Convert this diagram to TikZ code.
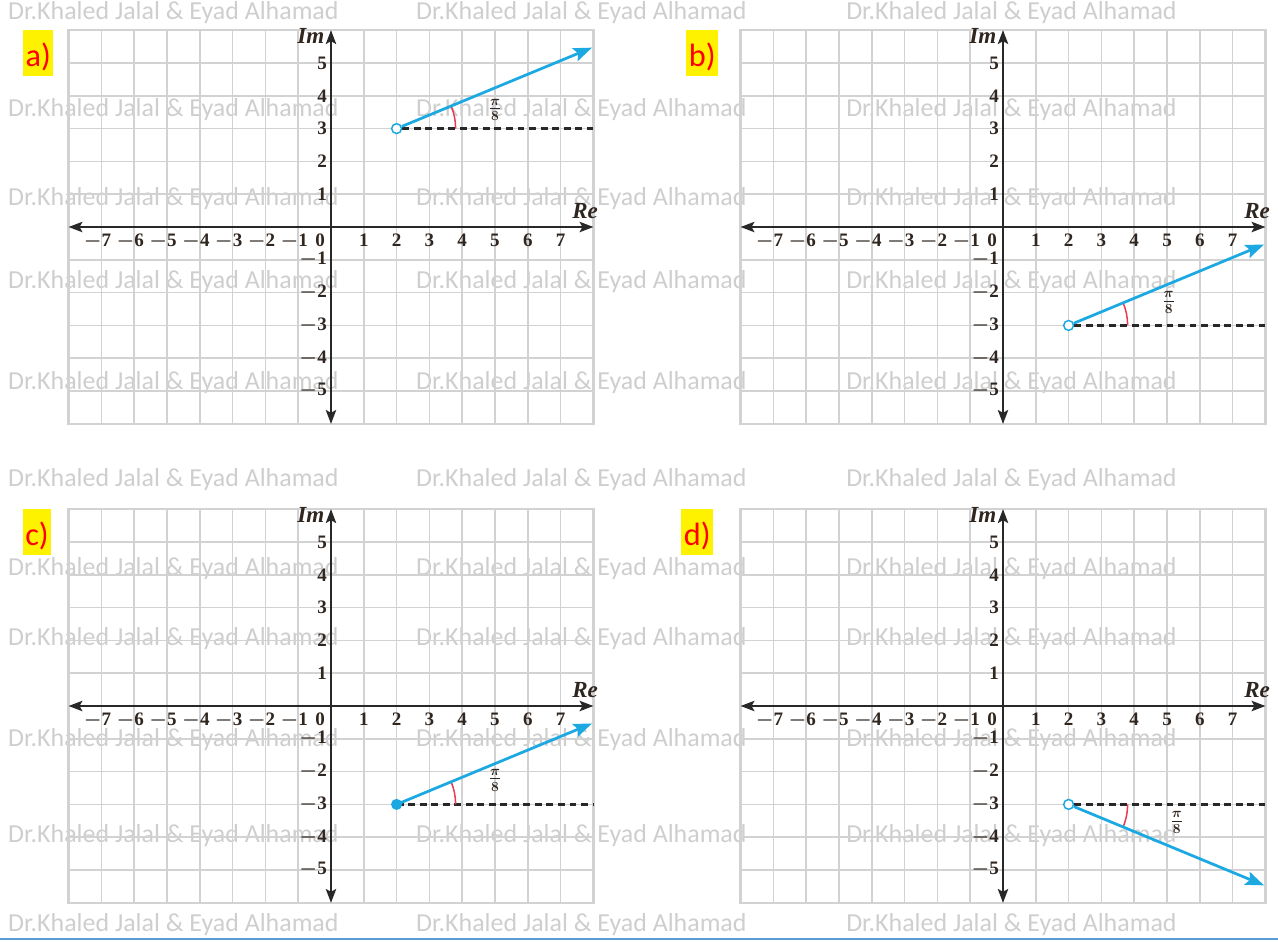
\documentclass[tikz,border=0pt]{standalone}
\usepackage{fontspec}
\setmainfont{Liberation Serif}
\newfontfamily\markfont{Carlito}
\usetikzlibrary{arrows.meta}
\usetikzlibrary{angles}

\definecolor{vecblue}{RGB}{28,169,226}
\definecolor{gridgray}{RGB}{210,210,210}
\definecolor{markgray}{RGB}{206,206,206}
\definecolor{axisgray}{RGB}{40,40,40}
\definecolor{tickcol}{RGB}{48,38,32}
\definecolor{anglered}{RGB}{232,58,80}
\definecolor{pageblue}{RGB}{91,155,213}

\tikzset{
  gridline/.style={draw=gridgray, line width=1.4pt},
  axisline/.style={draw=axisgray, line width=1.7pt, >={Stealth[length=12pt,width=9pt,inset=2.5pt]}},
  ticklabel/.style={inner sep=0pt, text=tickcol, font=\fontsize{16.5}{16.5}\selectfont\bfseries\boldmath},
  axislabel/.style={inner sep=0pt, text=tickcol, font=\fontsize{20}{20}\selectfont\bfseries\itshape},
  fraclabel/.style={inner sep=0pt, text=tickcol, font=\fontsize{18}{18}\selectfont\boldmath},
  vector/.style={draw=vecblue, line width=2.4pt, >={Stealth[length=16pt,width=12pt,inset=3pt]}},
  dashline/.style={draw=axisgray, line width=2pt, dash pattern=on 6pt off 4pt},
  anglemark/.style={draw=anglered, line width=1.3pt, angle radius=1.8cm},
  opendot/.style={circle, draw=vecblue, fill=white, line width=1.3pt, minimum size=0.3cm, inner sep=0pt},
  fulldot/.style={circle, fill=vecblue, minimum size=0.34cm, inner sep=0pt},
  partlabel/.style={fill=yellow, text=red, inner sep=0pt, inner xsep=2.3pt, text height=32pt, text depth=7.8pt, font=\markfont\fontsize{28}{28}\selectfont},
  watermark/.style={text=markgray, inner sep=0pt, font=\markfont\fontsize{22.5}{22.5}\selectfont}
}

% grid, axes and tick labels of one complex plane
\newcommand{\planeaxes}{%
  \draw[gridline] (-8,-6) grid (8,6);
  \draw[gridline, line width=2pt] (-8,-6) rectangle (8,6);
  \draw[axisline, <->] (-8,0) -- (8,0);
  \draw[axisline, <->] (0,-6) -- (0,6);
  \node[axislabel, anchor=base east] (im) at (-0.2,5.6) {Im};
  \node[axislabel, anchor=base west] (re) at (7.35,0.27) {Re};
  \node[ticklabel, anchor=base] (zero) at (-0.33,-0.6) {0};
  \foreach \n in {1,...,7} {
    \node[ticklabel, anchor=base] (rx\n) at (\n,-0.6) {\n};
    \node[ticklabel, anchor=base] (lx\n) at (-\n-0.12,-0.6) {$-$\n};
  }
  \foreach \n in {1,...,5} {
    \node[ticklabel, anchor=east] (uy\n) at (-0.12,\n) {\n};
    \node[ticklabel, anchor=east] (dy\n) at (-0.12,-\n) {$-$\n};
  }
}

\begin{document}
\begin{tikzpicture}
  \useasboundingbox (0,0) rectangle (38.963,-28.689);

  % watermark
  \foreach \row in {13,110,199,282,383,480,569,639,740,836,925}
    \foreach \col in {8,416,846}
      \node[watermark, anchor=west] (wm-\row-\col) at (\col/32.8,-\row/32.8) {Dr.Khaled Jalal \& Eyad Alhamad};

  \draw[pageblue, line width=1.3pt] (0,-28.63) -- (38.963,-28.63);

  \node[partlabel, anchor=west] (parta) at (0.692,-1.616) {a)};
  \node[partlabel, anchor=west] (partb) at (20.915,-1.616) {b)};
  \node[partlabel, anchor=west] (partc) at (0.683,-16.22) {c)};
  \node[partlabel, anchor=west] (partd) at (20.762,-16.22) {d)};

  \begin{scope}[shift={(10.091,-6.921)}]
    \planeaxes
    \coordinate (aStart) at (2,3);
    \coordinate (aLevel) at (8,3);
    \path (aStart) ++(22.5:6.45) coordinate (aTip);
    \node[opendot] (aDot) at (aStart) {};
    \draw[dashline] (aDot) -- (aLevel);
    \pic[anglemark] {angle = aLevel--aStart--aTip};
    \node[fraclabel] (aFrac) at (5,3.57) {$\frac{\pi}{8}$};
    \draw[vector, ->] (aDot) -- (aTip);
  \end{scope}

  \begin{scope}[shift={(30.579,-6.921)}]
    \planeaxes
    \coordinate (bStart) at (2,-3);
    \coordinate (bLevel) at (8,-3);
    \path (bStart) ++(22.5:6.45) coordinate (bTip);
    \node[opendot] (bDot) at (bStart) {};
    \draw[dashline] (bDot) -- (bLevel);
    \pic[anglemark] {angle = bLevel--bStart--bTip};
    \node[fraclabel] (bFrac) at (5.05,-2.3) {$\frac{\pi}{8}$};
    \draw[vector, ->] (bDot) -- (bTip);
  \end{scope}

  \begin{scope}[shift={(10.091,-21.524)}]
    \planeaxes
    \coordinate (cStart) at (2,-3);
    \coordinate (cLevel) at (8,-3);
    \path (cStart) ++(22.5:6.45) coordinate (cTip);
    \draw[dashline] (cStart) -- (cLevel);
    \pic[anglemark] {angle = cLevel--cStart--cTip};
    \node[fraclabel] (cFrac) at (5,-2.26) {$\frac{\pi}{8}$};
    \draw[vector, ->] (cStart) -- (cTip);
    \node[fulldot] (cDot) at (cStart) {};
  \end{scope}

  \begin{scope}[shift={(30.579,-21.524)}]
    \planeaxes
    \coordinate (dStart) at (2,-3);
    \coordinate (dLevel) at (8,-3);
    \path (dStart) ++(-22.5:6.45) coordinate (dTip);
    \node[opendot] (dDot) at (dStart) {};
    \draw[dashline] (dDot) -- (dLevel);
    \pic[anglemark] {angle = dTip--dStart--dLevel};
    \node[fraclabel] (dFrac) at (5.3,-3.55) {$\frac{\pi}{8}$};
    \draw[vector, ->] (dDot) -- (dTip);
  \end{scope}
\end{tikzpicture}
\end{document}
